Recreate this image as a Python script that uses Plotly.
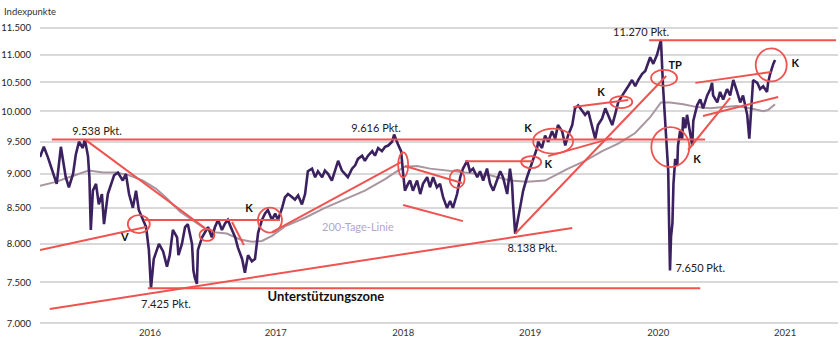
import plotly.graph_objects as go

# --- Index closes (Indexpunkte) ---
dates = [
    "2015-04-01", "2015-04-12", "2015-04-24", "2015-05-05", "2015-05-19", "2015-05-31", "2015-06-14", "2015-06-23",
    "2015-07-05", "2015-07-13", "2015-07-22", "2015-08-02", "2015-08-08", "2015-08-17", "2015-08-21", "2015-08-25",
    "2015-08-31", "2015-09-09", "2015-09-17", "2015-09-26", "2015-10-02", "2015-10-13", "2015-10-22", "2015-10-31",
    "2015-11-11", "2015-11-25", "2015-12-04", "2015-12-13", "2015-12-24", "2016-01-02", "2016-01-10", "2016-01-22",
    "2016-01-31", "2016-02-08", "2016-02-14", "2016-02-22", "2016-03-08", "2016-03-20", "2016-03-31", "2016-04-08",
    "2016-04-17", "2016-04-29", "2016-05-03", "2016-05-13", "2016-05-22", "2016-05-30", "2016-06-11", "2016-06-15",
    "2016-06-19", "2016-06-25", "2016-06-28", "2016-07-10", "2016-07-18", "2016-07-27", "2016-08-07", "2016-08-16",
    "2016-08-25", "2016-09-05", "2016-09-14", "2016-09-22", "2016-10-04", "2016-10-13", "2016-10-21", "2016-11-02",
    "2016-11-10", "2016-11-19", "2016-11-30", "2016-12-09", "2016-12-18", "2016-12-29", "2017-01-07", "2017-01-15",
    "2017-01-27", "2017-02-05", "2017-02-13", "2017-02-25", "2017-03-05", "2017-03-14", "2017-03-20", "2017-04-03",
    "2017-04-12", "2017-04-23", "2017-05-02", "2017-05-10", "2017-05-22", "2017-05-31", "2017-06-08", "2017-06-20",
    "2017-06-28", "2017-07-07", "2017-07-18", "2017-07-27", "2017-08-05", "2017-08-16", "2017-08-25", "2017-09-02",
    "2017-09-14", "2017-09-23", "2017-10-01", "2017-10-13", "2017-10-21", "2017-10-30", "2017-11-11", "2017-11-19",
    "2017-11-28", "2017-12-09", "2017-12-18", "2017-12-27", "2018-01-07", "2018-01-13", "2018-01-24", "2018-02-02",
    "2018-02-08", "2018-02-13", "2018-02-22", "2018-02-28", "2018-03-08", "2018-03-20", "2018-03-29", "2018-04-06",
    "2018-04-18", "2018-04-26", "2018-05-05", "2018-05-16", "2018-05-25", "2018-06-03", "2018-06-14", "2018-06-23",
    "2018-07-01", "2018-07-13", "2018-07-22", "2018-07-30", "2018-08-11", "2018-08-19", "2018-08-28", "2018-09-09",
    "2018-09-17", "2018-09-26", "2018-10-07", "2018-10-16", "2018-10-25", "2018-11-05", "2018-11-14", "2018-11-22",
    "2018-12-04", "2018-12-12", "2018-12-18", "2018-12-21", "2018-12-27", "2019-01-10", "2019-01-19", "2019-01-30",
    "2019-02-08", "2019-02-17", "2019-02-28", "2019-03-03", "2019-03-14", "2019-03-23", "2019-04-01", "2019-04-12",
    "2019-04-21", "2019-04-29", "2019-05-11", "2019-05-20", "2019-05-28", "2019-06-09", "2019-06-17", "2019-06-26",
    "2019-07-07", "2019-07-16", "2019-07-25", "2019-08-05", "2019-08-14", "2019-08-22", "2019-09-03", "2019-09-12",
    "2019-09-20", "2019-10-02", "2019-10-10", "2019-10-19", "2019-10-31", "2019-11-08", "2019-11-17", "2019-11-28",
    "2019-12-07", "2019-12-16", "2019-12-27", "2020-01-05", "2020-01-13", "2020-01-19", "2020-01-28", "2020-02-08",
    "2020-02-14", "2020-02-19", "2020-02-25", "2020-03-02", "2020-03-08", "2020-03-11", "2020-03-13", "2020-03-16",
    "2020-03-19", "2020-03-23", "2020-03-26", "2020-03-31", "2020-04-06", "2020-04-08", "2020-04-14", "2020-04-20",
    "2020-04-23", "2020-04-29", "2020-05-04", "2020-05-13", "2020-05-19", "2020-05-22", "2020-06-02", "2020-06-11",
    "2020-06-19", "2020-07-01", "2020-07-10", "2020-07-15", "2020-07-18", "2020-07-30", "2020-08-07", "2020-08-16",
    "2020-08-27", "2020-09-05", "2020-09-14", "2020-09-25", "2020-10-04", "2020-10-12", "2020-10-24", "2020-10-30",
    "2020-11-07", "2020-11-10", "2020-11-22", "2020-11-30", "2020-12-09", "2020-12-20", "2020-12-23", "2020-12-29",
    "2021-01-07", "2021-01-12",
]
closes = [
    9260, 9420, 9250, 9080, 8850, 9420, 8950, 8800,
    9000, 9300, 9500, 9400, 9538, 9270, 8950, 8190,
    8750, 8850, 8550, 8700, 8270, 8700, 8850, 8980,
    9020, 8900, 9000, 8700, 8500, 8750, 8470, 8330,
    8230, 7920, 7425, 7800, 8000, 7900, 7700, 7850,
    8190, 8090, 7850, 8000, 8230, 8270, 8000, 7650,
    7560, 7480, 7920, 8090, 8150, 8230, 8090, 8230,
    8330, 8190, 8280, 8330, 8190, 8090, 7950, 7800,
    7620, 7850, 7770, 7800, 8150, 8330, 8420, 8470,
    8330, 8420, 8330, 8500, 8650, 8700, 8680, 8620,
    8680, 8550, 8700, 9040, 9080, 8950, 9040, 8950,
    9050, 9000, 8900, 9040, 9200, 9050, 9000, 8950,
    9080, 9130, 9230, 9280, 9200, 9280, 9350, 9280,
    9400, 9350, 9420, 9440, 9500, 9616, 9460, 9350,
    9000, 8750, 8850, 8900, 8750, 8900, 8700, 8850,
    8950, 8800, 8950, 8800, 8850, 8650, 8500, 8600,
    8500, 8700, 8950, 9080, 9200, 9040, 9080, 8950,
    9040, 8900, 9080, 8850, 8750, 8900, 9040, 8950,
    8700, 9080, 8850, 8550, 8138, 8500, 8750, 8950,
    9080, 9230, 9400, 9500, 9400, 9600, 9500, 9670,
    9550, 9770, 9670, 9440, 9600, 9770, 10050, 10100,
    10000, 9940, 10000, 9720, 9550, 9770, 9880, 10050,
    9940, 9770, 9940, 10150, 10270, 10340, 10430, 10540,
    10430, 10540, 10650, 10700, 10830, 10950, 10830, 11000,
    11150, 11270, 10430, 9900, 9350, 9040, 8400, 7650,
    8100, 8280, 8850, 9230, 9130, 9440, 9670, 9550,
    9900, 9720, 9940, 9670, 9440, 9840, 10100, 10200,
    10050, 10270, 10380, 10490, 10270, 10150, 10330, 10200,
    10380, 10270, 10540, 10330, 10150, 10270, 9940, 9550,
    10150, 10540, 10490, 10380, 10430, 10330, 10490, 10650,
    10830, 10900,
]

# --- 200-day moving average ---
ma_dates = [
    "2015-04-01", "2015-05-17", "2015-06-23", "2015-08-02", "2015-08-19", "2015-09-29", "2015-11-05", "2015-12-13",
    "2016-01-22", "2016-02-28", "2016-03-28", "2016-05-07", "2016-07-12", "2016-08-10", "2016-09-19", "2016-10-27",
    "2016-11-30", "2016-12-29", "2017-01-27", "2017-03-05", "2017-05-02", "2017-06-28", "2017-08-25", "2017-10-21",
    "2017-12-18", "2018-01-15", "2018-02-13", "2018-03-20", "2018-04-26", "2018-06-23", "2018-08-19", "2018-10-16",
    "2018-12-12", "2019-01-30", "2019-03-23", "2019-05-28", "2019-07-16", "2019-09-03", "2019-10-19", "2019-12-07",
    "2020-01-19", "2020-02-19", "2020-03-16", "2020-04-23", "2020-06-02", "2020-07-10", "2020-08-16", "2020-09-25",
    "2020-11-01", "2020-12-09", "2020-12-23", "2021-01-12",
]
ma_values = [
    8820, 8880, 8950, 9020, 9050, 9020, 9020, 8980,
    8900, 8780, 8650, 8450, 8230, 8160, 8140, 8060,
    8030, 8040, 8110, 8240, 8360, 8500, 8620, 8750,
    8920, 9020, 9110, 9120, 9080, 9050, 9020, 8980,
    8900, 8880, 8900, 9080, 9200, 9350, 9470, 9640,
    9900, 10150, 10150, 10120, 10070, 10050, 10070, 10090,
    10050, 10000, 10020, 10120,
]

# --- Trend lines: start / end of each segment ---
trend_from_dates = [
    "2015-05-05", "2016-02-05", "2015-04-29", "2015-04-01", "2015-08-08", "2016-01-25",
    "2016-10-04", "2017-01-27", "2018-02-13", "2018-02-08", "2018-08-05", "2018-12-27",
    "2019-04-01", "2019-06-12", "2020-01-16", "2020-05-07", "2020-05-28", "2020-06-19",
]
trend_from_values = [
    9538, 7425, 7170, 7918, 9538, 8330,
    8300, 8161, 9120, 8541, 9195, 8138,
    9273, 10072, 11270, 9369, 10489, 9920,
]
trend_to_dates = [
    "2020-06-25", "2020-06-11", "2019-06-09", "2016-01-31", "2016-07-18", "2017-02-19",
    "2016-11-07", "2018-02-02", "2018-07-27", "2018-07-30", "2019-02-17", "2020-03-05",
    "2019-10-01", "2019-11-17", "2021-07-06", "2020-09-05", "2021-01-01", "2021-01-21",
]
trend_to_values = [
    9538, 7425, 8217, 8230, 8217, 8330,
    7986, 9180, 8862, 8313, 9195, 10610,
    9558, 10193, 11270, 10226, 10684, 10244,
]

# --- Marked zones: centre date, value band (low / high), half-width in px ---
ring_dates = [
    "2016-01-10", "2016-07-24", "2017-01-21", "2018-02-08", "2018-07-13", "2019-02-11",
    "2019-04-15", "2019-10-28", "2020-02-28", "2020-03-17", "2021-01-01",
]
ring_low = [8147, 8040, 8154, 8947, 8790, 9088, 9312, 10054, 10435, 9104, 10514]
ring_high = [8397, 8203, 8504, 9331, 9060, 9273, 9712, 10259, 10719, 9737, 11114]
ring_rx = [11, 7.5, 12, 5, 7.5, 10, 20, 11, 13, 19, 15.5]

# --- Level labels ---
level_texts = ["9.538 Pkt.", "7.425 Pkt.", "9.616 Pkt.", "8.138 Pkt.", "11.270 Pkt.", "7.650 Pkt."]
level_dates = ["2015-09-12", "2016-03-28", "2017-11-22", "2019-02-14", "2019-12-24", "2020-06-11"]
level_values = [9655, 7219, 9706, 7932, 11407, 7669]

# --- Signal letters ---
signal_texts = ["V", "K", "K", "K", "K", "TP", "K", "K"]
signal_dates = ["2015-12-01", "2016-11-22", "2019-02-02", "2019-04-01", "2019-08-31", "2020-03-31",
                "2020-06-02", "2021-03-11"]
signal_values = [8079, 8483, 9706, 9137, 10313, 10792, 9209, 10827]

year_ticks = ["2016-02-11", "2017-02-07", "2018-02-08", "2019-02-08", "2020-02-11", "2021-02-10"]
year_labels = ["2016", "2017", "2018", "2019", "2020", "2021"]
y_ticks = [7000, 7500, 8000, 8500, 9000, 9500, 10000, 10500, 11000, 11500]
y_labels = ["7.000", "7.500", "8.000", "8.500", "9.000", "9.500", "10.000", "10.500", "11.000", "11.500"]

RED = "#ef5350"
FONT = "Lato"

fig = go.Figure()

fig.add_trace(go.Scatter(x=ma_dates, y=ma_values, mode="lines",
                         line=dict(color="#a8959f", width=2), hoverinfo="skip"))
fig.add_trace(go.Scatter(x=dates, y=closes, mode="lines",
                         line=dict(color="#3b2160", width=2.6)))

tx, ty = [], []
for d0, v0, d1, v1 in zip(trend_from_dates, trend_from_values, trend_to_dates, trend_to_values):
    tx += [d0, d1, None]
    ty += [v0, v1, None]
fig.add_trace(go.Scatter(x=tx, y=ty, mode="lines", line=dict(color=RED, width=2), hoverinfo="skip"))

fig.add_trace(go.Scatter(x=level_dates, y=level_values, mode="text", text=level_texts,
                         textfont=dict(family=FONT, size=11, color="#222222")))
fig.add_trace(go.Scatter(x=signal_dates, y=signal_values, mode="text", text=signal_texts,
                         textfont=dict(family=FONT, size=11, color="#111111", weight="bold")))
fig.add_trace(go.Scatter(x=["2017-07-01"], y=[7305], mode="text", text=["Unterstützungszone"],
                         textfont=dict(family=FONT, size=13, color="#111111", weight="bold")))
fig.add_trace(go.Scatter(x=["2017-10-01"], y=[8217], mode="text", text=["200-Tage-Linie"],
                         textfont=dict(family=FONT, size=11, color="#b5a6c9")))

for d, lo, hi, rx in zip(ring_dates, ring_low, ring_high, ring_rx):
    fig.add_shape(type="circle", xref="x", yref="y", xsizemode="pixel",
                  xanchor=d, x0=-rx, x1=rx, y0=lo, y1=hi,
                  line=dict(color=RED, width=1.8), layer="above")

fig.add_annotation(text="Indexpunkte", xref="paper", yref="paper", x=0, y=1,
                   xanchor="left", yanchor="bottom", xshift=-38, yshift=1, showarrow=False,
                   font=dict(family=FONT, size=9.5, color="#333333"))

fig.update_layout(
    width=840, height=344,
    margin=dict(l=40, r=2, t=20, b=19),
    paper_bgcolor="white", plot_bgcolor="white",
    showlegend=False,
    font=dict(family=FONT, size=9.5, color="#333333"),
    xaxis=dict(type="date", range=["2015-04-01", "2021-07-12"], tickvals=year_ticks, ticktext=year_labels,
               showgrid=False, zeroline=False, showline=False, ticks="",
               tickfont=dict(family=FONT, size=9.5, color="#333333")),
    yaxis=dict(type="log", range=[3.84386, 4.06666], tickvals=y_ticks, ticktext=y_labels,
               showgrid=True, gridcolor="#d9d9d9", gridwidth=1.5, zeroline=False, showline=False,
               ticks="", ticklabelstandoff=8,
               tickfont=dict(family=FONT, size=9.5, color="#222222")),
)

fig.write_html("out.html")
